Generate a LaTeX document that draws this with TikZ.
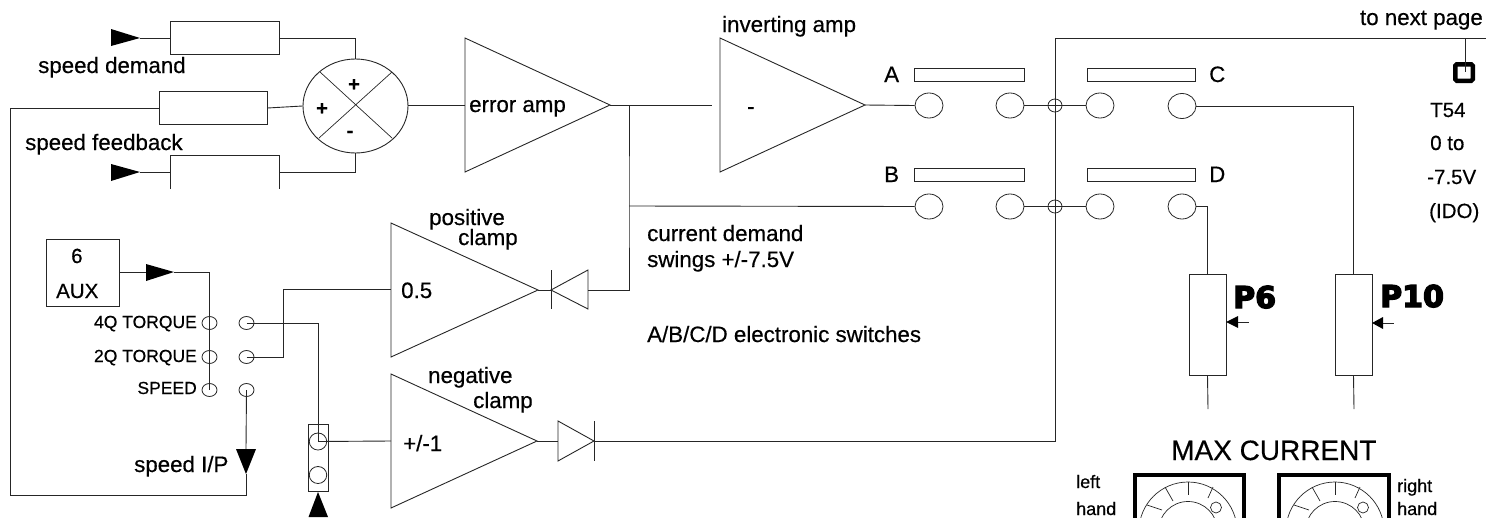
\documentclass[tikz,border=0pt]{standalone}
\usepackage{fontspec}
\setmainfont[FakeBold=0.45]{Liberation Sans}
\newfontfamily\heavyfont[FakeBold=4.5]{DejaVu Sans Bold}
\usetikzlibrary{shapes.geometric}
\tikzset{
  wire/.style={draw=black!85,line width=0.9pt,line join=miter},
  box/.style={draw=black!85,line width=0.9pt,rectangle,inner sep=0pt,fill=white},
  pad/.style={draw=black!85,line width=0.8pt,ellipse,inner sep=0pt,minimum width=#1},
  pad/.default=28pt,
  tag/.style={anchor=base west,inner sep=0pt,text=black},
  tagr/.style={anchor=base east,inner sep=0pt,text=black},
  amp/.style={draw=black!85,line width=0.9pt,line join=miter},
  tip/.style={fill=black,draw=none},
  panel/.style={draw=black,line width=4.5pt},
  fa/.style={font=\fontsize{22.3}{26}\selectfont},
  fb/.style={font=\fontsize{17.5}{20}\selectfont},
  fc/.style={font=\fontsize{20.5}{24}\selectfont},
  fd/.style={font=\fontsize{18}{21}\selectfont},
}
\begin{document}
\begin{tikzpicture}[x=1pt,y=-1pt]
\useasboundingbox (0,0) rectangle (1486,517);
\clip (0,0) rectangle (1486,517);
% ---- named points
\coordinate (inA) at (140,38);
\coordinate (inB) at (140,172);
\coordinate (fbL) at (10,108);
\coordinate (fbB) at (10,495);
\coordinate (errIn) at (465,105);
\coordinate (errOut) at (610,105);
\coordinate (invIn) at (712,105);
\coordinate (invOut) at (865,105);
\coordinate (jn1) at (629,105);
\coordinate (jn2) at (629,206);
\coordinate (posOut) at (538,290);
\coordinate (posIn) at (391,289);
\coordinate (negOut) at (537,441);
\coordinate (negIn) at (391,441);
\coordinate (dpA) at (551,290);
\coordinate (dpK) at (588,290);
\coordinate (dnA) at (558,441);
\coordinate (dnK) at (594,441);
\coordinate (bus) at (1055,38);
\coordinate (pageR) at (1486,38);
\coordinate (tp) at (1465,38);
\coordinate (auxTip) at (146,272);
\coordinate (auxEnd) at (174,272);
\coordinate (p6a) at (1208,409);
\coordinate (p10a) at (1354,409);
\coordinate (spdTipT) at (246,449);
\coordinate (spdTipB) at (246,474);
% ---- resistors
\node[box,minimum width=109pt,minimum height=33pt] (r1) at (224.5,38) {};
\node[box,minimum width=108pt,minimum height=33pt] (r2) at (213,108) {};
\coordinate (r3l) at (170,172);
\coordinate (r3r) at (279,172);
\draw[wire] (170,189) -- (170,155) -- (279,155) -- (279,189);
% ---- summer
\node[draw=black!85,line width=0.9pt,ellipse,inner sep=0pt,minimum width=105pt,minimum height=94pt] (sum) at (355.5,106) {};
\draw[wire,line width=0.7pt] (320,72) -- (392,138) (392,72) -- (319,138);
\node[font=\bfseries\fontsize{20}{22}\selectfont,inner sep=0pt] (s1) at (354,85) {+};
\node[font=\bfseries\fontsize{20}{22}\selectfont,inner sep=0pt] (s2) at (322,109) {+};
\node[font=\bfseries\fontsize{20}{22}\selectfont,inner sep=0pt] (s3) at (350,134) {-};
% ---- connectors left
\draw[wire] (inA) -- (r1.west);
\draw[wire] (r1.east) -| (sum.north);
\draw[wire] (inB) -- (r3l);
\draw[wire] (r3r) -| (sum.south);
\draw[wire] (r2.east) -- (sum.west);
\draw[wire] (r2.west) -- (fbL) -- (fbB) -- (246,495) -- (spdTipB);
\draw[wire] (sum.east |- errIn) -- (errIn);
\fill[tip] (inA) -- (111,29) -- (111,46) -- cycle;
\fill[tip] (inB) -- (111,164) -- (111,181) -- cycle;
% ---- amplifiers
\draw[amp] (465,38) -- (errOut) -- (465,172) -- cycle;
\draw[amp] (720,38) -- (invOut) -- (720,172) -- cycle;
\draw[amp] (391,223) -- (posOut) -- (391,357) -- cycle;
\draw[amp] (391,374) -- (negOut) -- (391,508) -- cycle;
% ---- switch pads
\node[pad,minimum height=25pt] (a1) at (929,105.5) {};
\node[pad,minimum height=25pt] (a2) at (1010,105.5) {};
\node[pad,minimum height=25pt] (c1) at (1100,105.5) {};
\node[pad,minimum height=25pt] (c2) at (1182,106) {};
\node[pad,minimum height=25pt] (b1) at (929,206.5) {};
\node[pad,minimum height=25pt] (b2) at (1010,206.5) {};
\node[pad,minimum height=25pt] (d1) at (1100,206.5) {};
\node[pad,minimum height=25pt] (d2) at (1182,206.5) {};
\node[box,minimum width=110pt,minimum height=13pt] (barA) at (969,74.5) {};
\node[box,minimum width=108pt,minimum height=13pt] (barC) at (1141,75) {};
\node[box,minimum width=110pt,minimum height=13pt] (barB) at (969,174.5) {};
\node[box,minimum width=108pt,minimum height=13pt] (barD) at (1141,174.5) {};
% ---- pots
\node[box,minimum width=37pt,minimum height=101pt] (p6) at (1207.5,324.5) {};
\node[box,minimum width=37pt,minimum height=101pt] (p10) at (1353.5,324.5) {};
% ---- main wires
\draw[wire] (errOut) -- (invIn);
\draw[wire] (invOut) -- (a1.west);
\draw[wire] (jn1) -- (jn2) -- (629,290) -- (dpK);
\draw[wire] (jn2) -- (b1.west);
\draw[wire] (posOut) -- (dpA);
\draw[wire] (negOut) -- (dnA);
\draw[wire] (dnK) -- (1055,441) -- (bus) -- (pageR);
\draw[wire] (a2.east) -- (c1.west);
\draw[wire] (b2.east) -- (d1.west);
\draw[wire] (c2.east) -| (p10.north);
\draw[wire] (d2.east) -| (p6.north);
\draw[wire] (p6.south) -- (p6a);
\draw[wire] (p10.south) -- (p10a);
\node[pad=14pt,minimum height=13pt] (x1) at (1055,105.5) {};
\node[pad=14pt,minimum height=13pt] (x2) at (1055,206.5) {};
% ---- diodes
\draw[amp] (dpA) -- (dpK |- 0,270) -- (dpK |- 0,309) -- cycle;
\draw[wire] (551,270) -- (551,309);
\draw[amp] (dnK) -- (dnA |- 0,421) -- (dnA |- 0,461) -- cycle;
\draw[wire] (594,421) -- (594,461);
% ---- pot wipers
\coordinate (w6) at (1249,322);
\coordinate (w10) at (1394,323);
\fill[tip] (1226,322) -- (1238,316) -- (1238,328) -- cycle;
\fill[tip] (1372,323) -- (1383,317) -- (1383,329) -- cycle;
\draw[wire,line width=0.7pt] (1238,322) -- (w6);
\draw[wire,line width=0.7pt] (1383,323) -- (w10);
% ---- test point
\node[draw=black,line width=4.5pt,rounded corners=1.5pt,inner sep=0pt,minimum width=17.5pt,minimum height=16.5pt] (t54) at (1464,72.5) {};
\draw[wire] (tp) -- (1465,72);
% ---- selector block
\node[box,minimum width=73pt,minimum height=67pt] (aux) at (82.5,272.5) {};
\node[pad=15pt,minimum height=13pt] (q4l) at (209.5,323) {};
\node[pad=15pt,minimum height=13pt] (q2l) at (209.5,357) {};
\node[pad=15pt,minimum height=13pt] (spl) at (209.5,390) {};
\node[pad=15pt,minimum height=13pt] (q4r) at (246.5,323) {};
\node[pad=15pt,minimum height=13pt] (q2r) at (246.5,357) {};
\node[pad=15pt,minimum height=13pt] (spr) at (246.5,390) {};
\draw[wire] (aux.east |- auxTip) -- (auxTip);
\fill[tip] (auxEnd) -- (146,264) -- (146,281) -- cycle;
\draw[wire] (auxEnd) -| (spl.center);
\draw[wire] (q4r.center) -- (318,323) -- (318,441);
\draw[wire] (q2r.center) -- (283,357) -- (283,289) -- (posIn);
\draw[wire] (spr.center) -- (spdTipT);
\fill[tip] (246,474) -- (236,449) -- (256,449) -- cycle;
\node[box,fill=none,minimum width=20pt,minimum height=67pt] (sel) at (318,457.5) {};
\node[pad=17.5pt,minimum height=17pt] (sela) at (318,441.5) {};
\node[pad=17.5pt,minimum height=17pt] (selb) at (318,475) {};
\draw[wire] (sela.center) -- (negIn);
\fill[tip] (318,492) -- (308.5,517) -- (328,517) -- cycle;
% ---- knobs
\draw[panel] (1135,530) -- (1135,475) -- (1244,475) -- (1244,530);
\draw[panel] (1279,530) -- (1279,475) -- (1389,475) -- (1389,530);
\foreach \c in {1188,1335}{
  \draw[wire,line width=0.7pt] (\c,531) circle[radius=49pt];
  \draw[wire,line width=0.7pt] (\c,531) circle[radius=29.5pt];
  \draw[wire,line width=0.7pt] (\c,482) -- (\c,495);
  \draw[wire,line width=0.7pt] (\c-23,487) -- (\c-15,501);
  \draw[wire,line width=0.7pt] (\c+25,487) -- (\c+20,498);
  \draw[wire,line width=0.7pt] (\c-41,505) -- (\c-26,510);
  \draw[wire,line width=0.7pt,fill=white] (\c+28,507.5) circle[radius=5.5pt];
}
% ---- labels
\node[tag,fa] (l1) at (38,73) {speed demand};
\node[tag,fa] (l2) at (25,150) {speed feedback};
\node[tag,fa] (l3) at (722,32) {inverting amp};
\node[tag,fa] (l4) at (469,112) {error amp};
\node[tag,fa] (l5) at (429,225) {positive};
\node[tag,fa] (l6) at (458,245) {clamp};
\node[tag,fa] (l7) at (428,383) {negative};
\node[tag,fa] (l8) at (473,408) {clamp};
\node[tag,fa] (l9) at (401,298) {0.5};
\node[tag,fa] (l10) at (403,451) {+/-1};
\node[tag,fa] (l11) at (747,114) {-};
\node[tag,fa] (l12) at (647,241) {current demand};
\node[tag,fa] (l13) at (647,267) {swings +/-7.5V};
\node[tag,fa] (l14) at (647,342) {A/B/C/D electronic switches};
\node[tag,fa] (l15) at (134,472) {speed I/P};
\node[tag,fc] (l16) at (71,263) {6};
\node[tag,fc] (l17) at (56,298) {AUX};
\node[tagr,fb] (l18) at (197,328) {4Q TORQUE};
\node[tagr,fb] (l19) at (197,362) {2Q TORQUE};
\node[tagr,fb] (l20) at (197,394) {SPEED};
\node[tag,fa] (lA) at (884,82) {A};
\node[tag,fa] (lB) at (884,182) {B};
\node[tag,fa] (lC) at (1209,82) {C};
\node[tag,fa] (lD) at (1209,182) {D};
\node[tagr,fa] (l21) at (1483,25) {to next page};
\node[tag,fc] (l22) at (1430,117) {T54};
\node[tag,fc] (l23) at (1430,150) {0 to};
\node[tag,fc] (l24) at (1427,184) {-7.5V};
\node[tag,fc] (l25) at (1429,218) {(IDO)};
\node[tag,font=\heavyfont\fontsize{30}{32}\selectfont] (l26) at (1233,308) {P6};
\node[tag,font=\heavyfont\fontsize{30}{32}\selectfont] (l27) at (1380,307) {P10};
\node[tag,font=\fontsize{28}{32}\selectfont] (l28) at (1171,460) {MAX CURRENT};
\node[tag,fd] (l29) at (1076,488) {left};
\node[tag,fd] (l30) at (1076,515) {hand};
\node[tag,fd] (l31) at (1397,492) {right};
\node[tag,fd] (l32) at (1397,515) {hand};
\end{tikzpicture}
\end{document}
